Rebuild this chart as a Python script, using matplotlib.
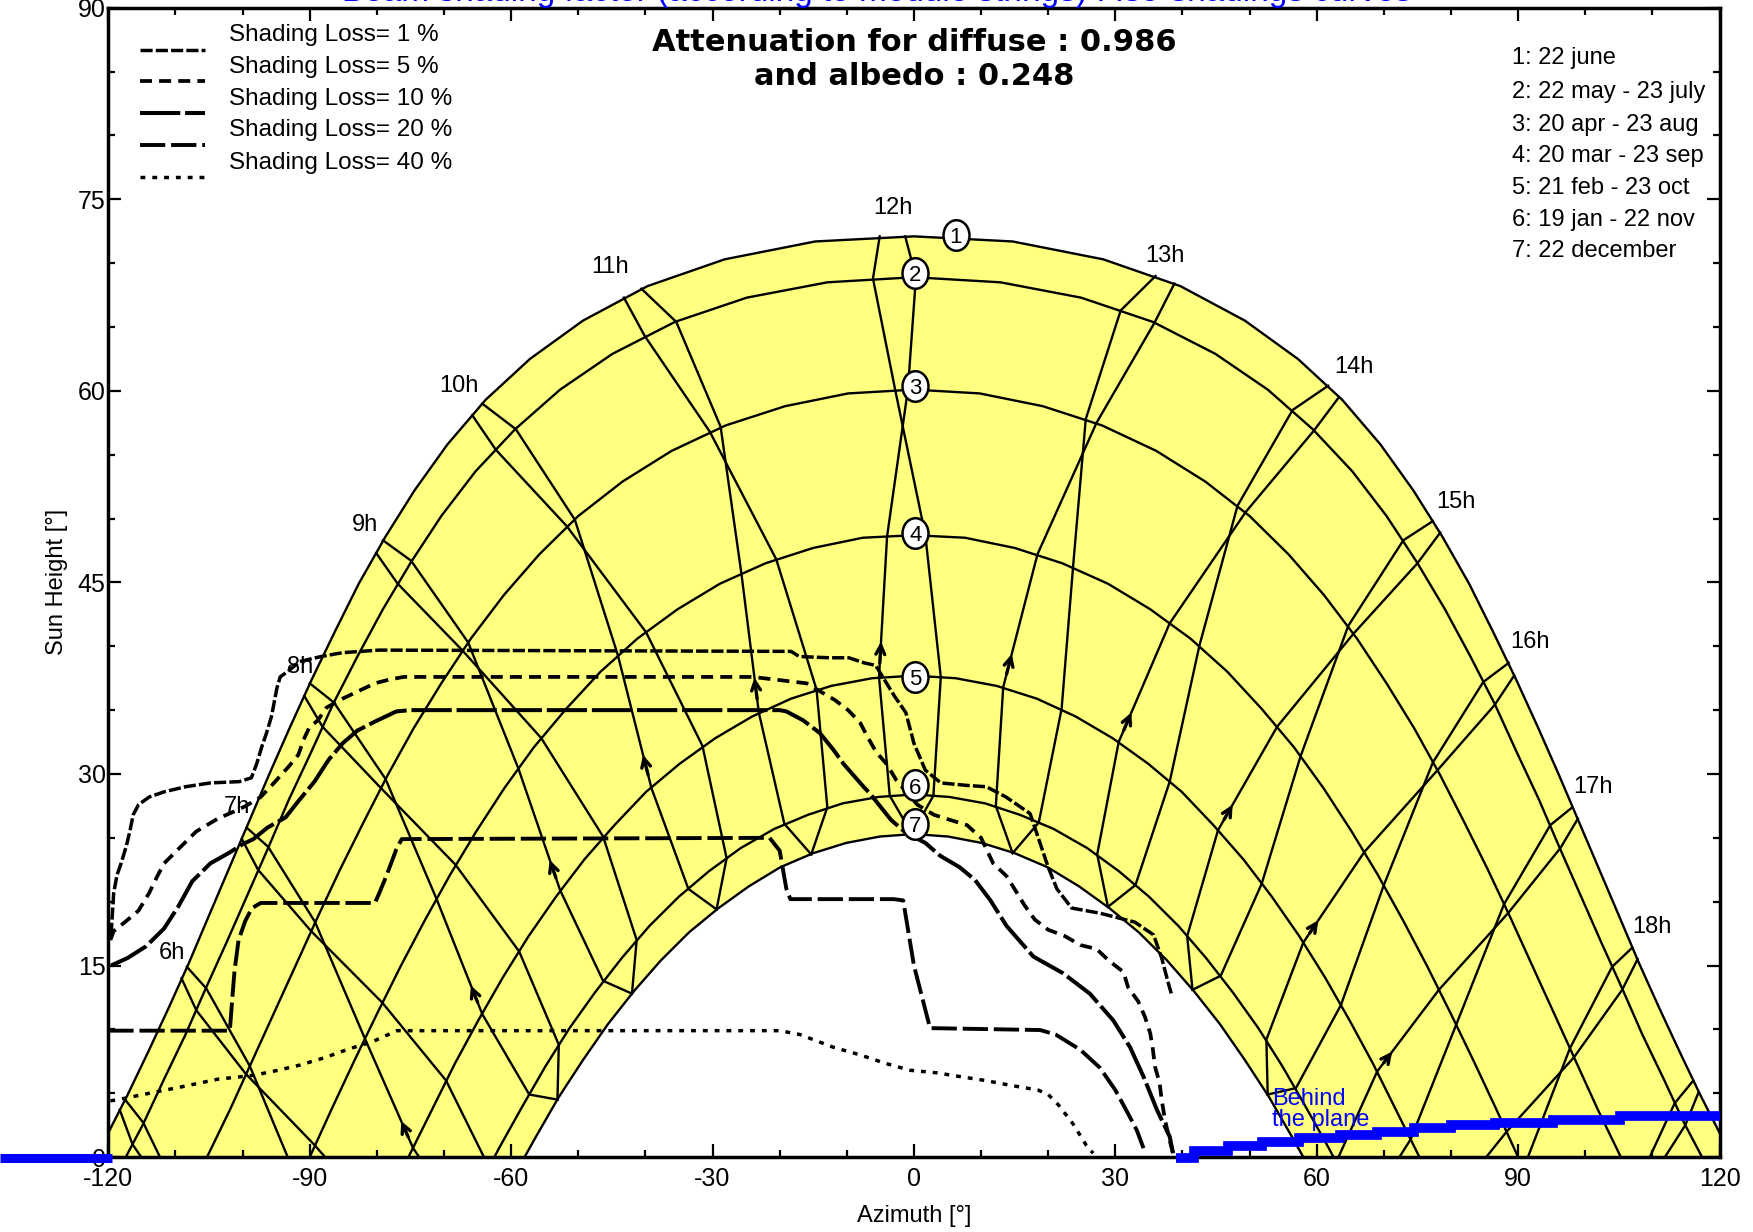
import numpy as np
import matplotlib.pyplot as plt
from matplotlib.ticker import MultipleLocator
from matplotlib.markers import MarkerStyle
from matplotlib.transforms import Affine2D

plt.rcParams['font.family'] = ['Liberation Sans', 'DejaVu Sans']
plt.rcParams['axes.unicode_minus'] = False

# date curves, from noon back to sunrise (the afternoon half is the mirror image)
D1_AZ = [0.0, -14.7, -28.2, -39.7, -49.3, -57.2, -63.8, -69.5, -74.4, -78.7, -82.7, -86.3, -89.7,
         -93.0, -96.1, -99.1, -102.1, -105.1, -108.0, -111.0, -114.1, -117.2, -120.4, -122.0]
D1_EL = [72.1, 71.7, 70.3, 68.2, 65.5, 62.5, 59.3, 55.8, 52.2, 48.6, 44.9, 41.1, 37.4,
         33.6, 29.9, 26.2, 22.5, 18.8, 15.2, 11.7, 8.2, 4.8, 1.5, 0.0]
D2_AZ = [0.0, -12.9, -24.9, -35.6, -44.9, -52.7, -59.4, -65.3, -70.4, -74.9, -79.1, -82.9, -86.5,
         -89.8, -93.1, -96.2, -99.3, -102.4, -105.5, -108.5, -111.7, -114.8, -117.4]
D2_EL = [68.9, 68.5, 67.3, 65.4, 62.9, 60.1, 57.0, 53.7, 50.2, 46.6, 42.9, 39.2, 35.5,
         31.7, 28.0, 24.2, 20.5, 16.8, 13.2, 9.6, 6.1, 2.6, 0.0]
D3_AZ = [0.0, -9.8, -19.2, -28.0, -36.1, -43.4, -50.0, -55.8, -61.1, -66.0, -70.4, -74.5, -78.4,
         -82.0, -85.5, -88.9, -92.1, -95.4, -98.6, -101.8, -105.3]
D3_EL = [60.1, 59.8, 58.8, 57.3, 55.3, 52.9, 50.2, 47.2, 44.0, 40.6, 37.1, 33.6, 29.9,
         26.2, 22.5, 18.7, 15.0, 11.2, 7.5, 3.8, 0.0]
D4_AZ = [0.0, -7.6, -15.0, -22.1, -28.9, -35.2, -41.2, -46.7, -51.8, -56.6, -61.0, -65.2, -69.1,
         -72.9, -76.5, -80.0, -83.4, -86.7, -90.0]
D4_EL = [48.7, 48.5, 47.7, 46.5, 44.9, 42.9, 40.6, 38.0, 35.1, 32.1, 28.9, 25.5, 22.1,
         18.5, 14.9, 11.2, 7.5, 3.8, 0.0]
D5_AZ = [0.0, -6.2, -12.3, -18.3, -24.1, -29.6, -34.9, -39.9, -44.6, -49.1, -53.3, -57.4, -61.2,
         -64.9, -68.4, -71.8, -75.3]
D5_EL = [37.7, 37.5, 36.9, 35.9, 34.5, 32.8, 30.8, 28.6, 26.0, 23.3, 20.4, 17.3, 14.1,
         10.7, 7.3, 3.7, 0.0]
D6_AZ = [0.0, -5.3, -10.6, -15.8, -20.8, -25.8, -30.5, -35.0, -39.4, -43.5, -47.5, -51.3, -54.9,
         -58.4, -61.8, -62.5]
D6_EL = [28.4, 28.2, 27.7, 26.8, 25.7, 24.2, 22.4, 20.4, 18.1, 15.6, 12.9, 10.1, 7.1,
         3.9, 0.7, 0.0]
D7_AZ = [0.0, -5.1, -10.1, -15.0, -19.9, -24.6, -29.1, -33.5, -37.7, -41.7, -45.6, -49.3, -52.9,
         -56.3, -58.0]
D7_EL = [25.3, 25.1, 24.6, 23.8, 22.7, 21.2, 19.5, 17.6, 15.4, 13.0, 10.4, 7.6, 4.7,
         1.6, 0.0]

# hour lines, 5h..19h; branch A runs dec -> jun, branch B runs jun -> dec
HOURS = list(range(5, 20))
HA_AZ = [[-81.1, -85.8, -94.3, -101.8, -108.8, -114.8, -117.5],
         [-72.1, -76.6, -84.4, -91.7, -98.9, -105.4, -108.3],
         [-63.0, -67.3, -74.6, -81.8, -89.2, -96.2, -99.4],
         [-53.1, -57.3, -64.3, -71.1, -78.7, -86.4, -90.0],
         [-42.0, -46.3, -52.7, -58.9, -66.4, -74.9, -79.1],
         [-29.4, -33.6, -39.1, -44.1, -50.5, -59.3, -64.3],
         [-15.3, -19.3, -23.1, -25.7, -28.8, -35.4, -40.6],
         [-0.3, -3.6, -5.2, -4.0, -0.9, 0.3, -1.3],
         [14.7, 12.2, 13.3, 18.4, 27.2, 35.8, 38.8],
         [28.9, 27.3, 30.5, 38.1, 49.4, 59.6, 63.3],
         [41.5, 40.7, 45.3, 54.1, 65.5, 75.0, 78.4],
         [52.7, 52.5, 58.0, 67.1, 78.0, 86.5, 89.4],
         [62.6, 62.9, 69.0, 78.2, 88.5, 96.3, 98.9],
         [71.8, 72.4, 79.0, 88.3, 98.3, 105.5, 107.8],
         [80.7, 81.6, 88.7, 98.2, 108.1, 114.9, 116.9]]
HA_EL = [[-26.4, -26.9, -21.6, -13.1, -3.8, 2.7, 4.5],
         [-15.4, -15.7, -10.4, -2.0, 7.1, 13.2, 14.9],
         [-5.0, -5.0, 0.7, 9.3, 18.4, 24.3, 25.8],
         [4.5, 4.9, 11.2, 20.2, 29.6, 35.6, 37.1],
         [12.8, 13.8, 20.9, 30.4, 40.3, 46.7, 48.3],
         [19.4, 21.0, 28.9, 39.3, 49.9, 57.0, 59.0],
         [23.7, 26.1, 34.8, 45.7, 57.2, 65.4, 68.0],
         [25.3, 28.3, 37.6, 48.6, 60.1, 68.9, 72.1],
         [23.8, 27.5, 36.8, 47.2, 57.5, 65.3, 68.4],
         [19.6, 23.7, 32.5, 41.8, 50.5, 56.9, 59.5],
         [13.1, 17.3, 25.6, 33.7, 41.0, 46.5, 48.9],
         [4.9, 9.2, 16.8, 23.9, 30.3, 35.4, 37.7],
         [-4.6, -0.4, 6.7, 13.1, 19.1, 24.2, 26.5],
         [-15.0, -10.8, -4.1, 2.0, 7.8, 13.1, 15.5],
         [-25.9, -21.7, -15.3, -9.3, -3.1, 2.5, 5.1]]
HB_AZ = [[-118.3, -116.4, -109.4, -99.2, -89.4, -82.0, -81.1],
         [-109.1, -106.9, -99.5, -89.2, -79.6, -72.8, -72.1],
         [-100.1, -97.7, -89.8, -79.2, -69.7, -63.3, -63.0],
         [-90.8, -88.1, -79.4, -68.3, -58.8, -52.9, -53.1],
         [-80.1, -76.9, -67.3, -55.5, -46.3, -41.3, -42.0],
         [-65.8, -62.3, -51.7, -39.9, -31.5, -27.9, -29.4],
         [-43.2, -40.1, -30.4, -20.5, -14.5, -12.9, -15.3],
         [-5.1, -6.1, -2.8, 1.7, 4.0, 2.9, -0.3],
         [36.0, 30.8, 25.6, 23.7, 22.0, 18.6, 14.7],
         [61.7, 56.4, 48.2, 42.5, 38.1, 33.0, 28.9],
         [77.3, 72.9, 64.7, 57.6, 51.8, 45.7, 41.5],
         [88.6, 84.8, 77.3, 70.0, 63.6, 56.9, 52.7],
         [98.1, 94.8, 87.9, 80.8, 74.0, 66.8, 62.6],
         [107.0, 104.0, 97.7, 90.8, 83.8, 76.2, 71.8],
         [116.1, 113.3, 107.5, 100.8, 93.6, 85.4, 80.7]]
HB_EL = [[3.7, 1.0, -4.4, -10.4, -16.1, -22.2, -26.4],
         [14.0, 11.5, 6.5, 0.9, -4.9, -11.3, -15.4],
         [24.9, 22.5, 17.7, 12.1, 6.0, -0.8, -5.0],
         [36.1, 33.7, 28.9, 22.9, 16.1, 8.8, 4.5],
         [47.3, 44.9, 39.7, 32.8, 25.1, 17.0, 12.8],
         [58.1, 55.4, 49.4, 41.1, 32.2, 23.4, 19.4],
         [67.3, 64.3, 56.8, 46.8, 36.6, 27.4, 23.7],
         [72.1, 68.8, 60.1, 48.7, 37.6, 28.3, 25.3],
         [69.0, 66.3, 57.8, 46.2, 35.1, 26.2, 23.8],
         [60.4, 58.5, 51.0, 40.0, 29.4, 21.3, 19.6],
         [49.8, 48.3, 41.6, 31.4, 21.4, 14.2, 13.1],
         [38.7, 37.2, 30.9, 21.3, 11.9, 5.4, 4.9],
         [27.4, 26.0, 19.8, 10.4, 1.4, -4.6, -4.6],
         [16.4, 14.9, 8.5, -0.9, -9.6, -15.2, -15.0],
         [6.0, 4.2, -2.4, -12.1, -20.9, -26.3, -25.9]]

HOUR_LABELS = ['6h', '7h', '8h', '9h', '10h', '11h', '12h', '13h', '14h', '15h', '16h', '17h', '18h']
HLBL_AZ = [-110.5, -100.8, -91.5, -81.8, -67.8, -45.3, -3.1, 37.4, 65.6, 80.8, 91.8, 101.2, 110.0]
HLBL_EL = [16.0, 27.4, 38.4, 49.5, 60.4, 69.7, 74.3, 70.6, 61.9, 51.3, 40.3, 29.0, 18.0]

DATE_IDS = ['1', '2', '3', '4', '5', '6', '7']
DATE_NAMES = ['1: 22 june', '2: 22 may - 23 july', '3: 20 apr - 23 aug', '4: 20 mar - 23 sep',
              '5: 21 feb - 23 oct', '6: 19 jan - 22 nov', '7: 22 december']
CIRCLE_AZ = [6.2, 0.2, 0.2, 0.2, 0.2, 0.2, 0.2]
CIRCLE_EL = [72.2, 69.2, 60.4, 48.9, 37.6, 29.1, 26.1]

# iso-shading curves
SL1_AZ = [-119.6, -119.2, -118.7, -118.1, -117.3, -116.8, -116.3, -115.5, -113.9, -111.7, -108.5,
          -104.8, -100.5, -98.7, -97.9, -97.1, -96.5, -95.7, -94.9, -94.4, -93.1, -91.5, -88.3,
          -85.1, -79.7, -18.3, -17.1, -12.6, -9.7, -7.4, -5.7, -2.9, -1.2, 0.0, 1.7, 4.0, 8.0,
          10.8, 13.7, 17.3, 20.0, 21.3, 23.5, 27.7, 32.9, 35.7, 36.9, 37.9, 38.4]
SL1_EL = [17.4, 20.7, 22.1, 23.0, 24.4, 25.5, 26.8, 27.6, 28.2, 28.6, 29.0,
          29.3, 29.4, 29.7, 30.8, 32.2, 33.1, 34.5, 36.7, 37.6, 38.1, 38.8, 39.2,
          39.5, 39.7, 39.6, 39.2, 39.1, 39.1, 38.7, 38.5, 36.1, 34.8, 32.4, 30.3, 29.3, 29.1,
          29.0, 28.2, 26.9, 22.7, 21.0, 19.5, 19.1, 18.4, 17.4, 15.6, 13.6, 12.7]
SL5_AZ = [-119.7, -119.2, -117.3, -115.5, -113.9, -112.8, -111.7, -109.6, -106.9, -103.7, -101.1,
          -99.5, -97.3, -95.5, -93.1, -91.7, -90.9, -90.1, -88.8, -87.5, -85.1, -81.9, -80.3,
          -78.1, -76.0, -24.0, -16.0, -11.8, -9.8, -8.0, -6.8, -5.6, -4.1, -2.6, 0.5, 3.0, 5.4,
          7.9, 10.0, 11.8, 13.8, 15.1, 16.5, 18.0, 20.0, 22.5, 24.8, 27.2, 29.0, 31.2, 31.9,
          33.4, 34.4, 35.2, 35.6, 35.9, 36.6, 36.9, 37.4, 38.1, 38.6]
SL5_EL = [17.0, 17.7, 18.5, 19.3, 20.7, 21.9, 23.0, 24.1, 25.5, 26.5, 27.1,
          27.5, 28.2, 29.2, 30.6, 31.5, 32.7, 33.6, 34.2, 35.2, 35.9, 36.7, 37.1,
          37.4, 37.6, 37.6, 37.1, 35.8, 35.0, 34.0, 32.8, 31.7, 30.8, 29.5, 27.6, 26.8, 26.4,
          26.0, 25.0, 23.0, 22.0, 20.9, 19.7, 18.6, 17.8, 17.3, 16.6, 16.3, 15.4, 14.5, 13.3,
          12.2, 11.0, 9.7, 8.4, 7.1, 5.8, 4.5, 2.9, 1.3, 0.3]
SL10_AZ = [-119.6, -117.1, -114.4, -111.7, -109.6, -107.5, -104.8, -102.1, -100.0, -98.4, -96.3,
           -93.6, -91.5, -89.3, -87.2, -85.1, -82.9, -80.3, -77.1, -75.0, -20.0, -19.0, -16.5,
           -14.0, -12.0, -10.5, -9.0, -7.5, -6.6, -3.4, -1.2, 1.7, 3.9, 6.8, 9.1, 11.4, 13.8,
           17.8, 22.2, 26.2, 29.7, 32.2, 34.2, 36.2, 38.1, 38.6]
SL10_EL = [15.0, 15.6, 16.5, 17.9, 19.6, 21.6, 23.0, 23.8, 24.5, 24.9, 25.8,
           26.6, 28.0, 29.4, 31.1, 32.4, 33.4, 34.1, 34.9, 35.0, 35.0, 34.9, 34.2,
           33.2, 31.9, 30.8, 29.9, 29.0, 28.5, 26.4, 25.4, 24.6, 23.6, 22.7, 21.7, 20.1, 18.1,
           15.7, 14.4, 12.8, 10.7, 8.6, 6.3, 3.7, 1.6, 0.3]
SL20_AZ = [-120.0, -101.9, -101.6, -101.2, -100.6, -99.6, -98.6, -97.3, -80.3, -79.7, -78.6,
           -77.1, -76.3, -21.5, -20.0, -19.0, -18.4, -3.0, -1.6, 0.0, 2.4, 18.8, 21.1, 24.8,
           27.7, 30.0, 31.7, 33.2, 34.2]
SL20_EL = [9.9, 9.9, 12.0, 14.6, 17.0, 18.5, 19.5, 19.9, 19.9, 20.6, 22.0,
           24.1, 24.9, 25.0, 24.0, 21.0, 20.2, 20.2, 20.1, 15.0, 10.1, 9.95, 9.6, 8.4,
           7.0, 5.25, 3.6, 2.1, 0.7]
SL40_AZ = [-119.7, -117.6, -113.9, -109.1, -103.7, -98.4, -94.7, -91.5, -87.7, -84.0, -80.8,
           -78.7, -77.0, -20.0, -17.0, -12.0, -8.0, -4.3, -0.6, 3.4, 6.9, 10.6, 14.6, 18.5,
           20.0, 21.5, 23.7, 25.7, 26.7]
SL40_EL = [4.4, 4.6, 5.0, 5.5, 6.1, 6.4, 6.8, 7.2, 7.8, 8.5, 9.0,
           9.5, 9.9, 9.9, 9.6, 8.6, 8.0, 7.35, 6.8, 6.6, 6.3, 6.0, 5.6, 5.25,
           4.9, 4.1, 2.6, 0.9, 0.3]
LOSS_LABELS = ['Shading Loss= 1 %', 'Shading Loss= 5 %', 'Shading Loss= 10 %',
               'Shading Loss= 20 %', 'Shading Loss= 40 %']

# "behind the plane" limit
BEHIND_AZ = [39.0, 44.3, 49.3, 54.4, 60.4, 66.5, 71.5, 77.5, 82.6, 90.6, 99.7, 110.8, 120.0]
BEHIND_EL = [-0.1, 0.5, 0.9, 1.15, 1.5, 1.7, 2.0, 2.3, 2.5, 2.7, 2.9, 3.2, 3.2]
BEHIND_LEFT_AZ = [-136.2, -119.5]
BEHIND_LEFT_EL = [-0.1, -0.1]

BLUE = '#0000ff'
YELLOW = '#ffff80'

fig = plt.figure(figsize=(17.53, 12.32), dpi=100)
ax = fig.add_axes([0.0618, 0.0608, 0.9191, 0.9329])
ax.set_xlim(-120, 120)
ax.set_ylim(0, 90)


def full_day(az, el):
    az = np.asarray(az)
    el = np.asarray(el)
    return np.r_[az[::-1], -az[1:]], np.r_[el[::-1], el[1:]]


curves = [full_day(a, e) for a, e in [(D1_AZ, D1_EL), (D2_AZ, D2_EL), (D3_AZ, D3_EL),
                                      (D4_AZ, D4_EL), (D5_AZ, D5_EL), (D6_AZ, D6_EL),
                                      (D7_AZ, D7_EL)]]

# yellow band between 22 june and 22 december
jx, jy = curves[0]
dx, dy = curves[-1]
ax.fill(np.r_[jx, dx[::-1]], np.r_[jy, dy[::-1]], color=YELLOW, lw=0, zorder=1)

grid_lw = 1.7
for x, y in curves:
    ax.plot(x, y, color='k', lw=grid_lw, zorder=2)
for i in range(len(HOURS)):
    ax.plot(HA_AZ[i], HA_EL[i], color='k', lw=grid_lw, zorder=2)
    ax.plot(HB_AZ[i], HB_EL[i], color='k', lw=grid_lw, zorder=2)
    # small arrow on the feb -> mar leg
    p0 = np.array([HA_AZ[i][2], HA_EL[i][2]])
    p1 = np.array([HA_AZ[i][3], HA_EL[i][3]])
    tail = p0 + 0.08 * (p1 - p0)
    tip = p0 + 0.27 * (p1 - p0)
    if tail[1] > 0.3:
        ax.annotate('', xy=tip, xytext=tail,
                    arrowprops=dict(arrowstyle='->', color='k', lw=2.4, mutation_scale=16),
                    zorder=3)

for lbl, a, e in zip(HOUR_LABELS, HLBL_AZ, HLBL_EL):
    ax.text(a, e, lbl, ha='center', va='center', fontsize=17, zorder=4)

ell = MarkerStyle('o', transform=Affine2D().scale(0.85, 1.0))
for lbl, a, e in zip(DATE_IDS, CIRCLE_AZ, CIRCLE_EL):
    ax.plot(a, e, marker=ell, ms=22, mfc='white', mec='k', mew=1.8, zorder=5)
    ax.text(a, e - 0.2, lbl, ha='center', va='center', fontsize=16, zorder=6)

# shading loss curves
styles = [dict(lw=2.5, dashes=(3.5, 0.9)),
          dict(lw=2.7, dashes=(3.2, 1.9)),
          dict(lw=2.9, dashes=(10.0, 1.2)),
          dict(lw=2.8, dashes=(6.5, 1.5)),
          dict(lw=2.5, dashes=(1.4, 2.0))]
loss_curves = [(SL1_AZ, SL1_EL), (SL5_AZ, SL5_EL), (SL10_AZ, SL10_EL),
               (SL20_AZ, SL20_EL), (SL40_AZ, SL40_EL)]
for (a, e), st in zip(loss_curves, styles):
    ax.plot(a, e, color='k', zorder=3, **st)

# legend, drawn by hand to sit where PVsyst puts it
text_y = [0.9760, 0.9486, 0.9208, 0.8934, 0.8651]
for lbl, ty, st in zip(LOSS_LABELS, text_y, styles):
    ax.plot([0.0196, 0.0600], [ty - 0.0127, ty - 0.0127], transform=ax.transAxes,
            color='k', zorder=3, **st)
    ax.text(0.0749, ty, lbl, transform=ax.transAxes, ha='left', va='center', fontsize=17.5)

date_y = [0.9562, 0.9271, 0.8978, 0.8706, 0.8434, 0.8152, 0.7880]
for lbl, ty in zip(DATE_NAMES, date_y):
    ax.text(0.871, ty, lbl, transform=ax.transAxes, ha='left', va='center', fontsize=17)

ax.text(0.5, 0.9698, 'Attenuation for diffuse : 0.986', transform=ax.transAxes,
        ha='center', va='center', fontsize=22, fontweight='bold', family='DejaVu Sans')
ax.text(0.5, 0.9406, 'and albedo : 0.248', transform=ax.transAxes,
        ha='center', va='center', fontsize=22, fontweight='bold', family='DejaVu Sans')

# behind the plane
ax.plot(BEHIND_AZ, BEHIND_EL, color=BLUE, lw=7.0, drawstyle='steps-mid', solid_capstyle='butt',
        solid_joinstyle='miter', clip_on=False, zorder=7)
ax.plot(BEHIND_LEFT_AZ, BEHIND_LEFT_EL, color=BLUE, lw=6.5, solid_capstyle='butt',
        clip_on=False, zorder=7)
ax.text(53.4, 5.4, 'Behind\nthe plane', color=BLUE, ha='left', va='top', fontsize=17,
        linespacing=0.95, zorder=6)

# title: PVsyst pushes it past the top edge of the page
fig.text(0.5, 0.9992, 'Beam shading factor (according to module strings) : Iso-shadings curves',
         color=BLUE, ha='center', va='baseline', fontsize=24)

ax.set_xticks(range(-120, 121, 30))
ax.set_yticks(range(0, 91, 15))
ax.xaxis.set_minor_locator(MultipleLocator(10))
ax.yaxis.set_minor_locator(MultipleLocator(5))
ax.tick_params(which='both', direction='in', top=True, right=True, width=1.6, labelsize=18)
ax.tick_params(which='major', length=9.5)
ax.tick_params(which='minor', length=5)
ax.tick_params(axis='x', pad=7)
ax.tick_params(axis='y', pad=2)
for s in ax.spines.values():
    s.set_linewidth(2.5)
ax.set_xlabel('Azimuth [°]', fontsize=17, labelpad=10)
ax.set_ylabel('Sun Height [°]', fontsize=17, labelpad=7)

fig.savefig('out.png')
